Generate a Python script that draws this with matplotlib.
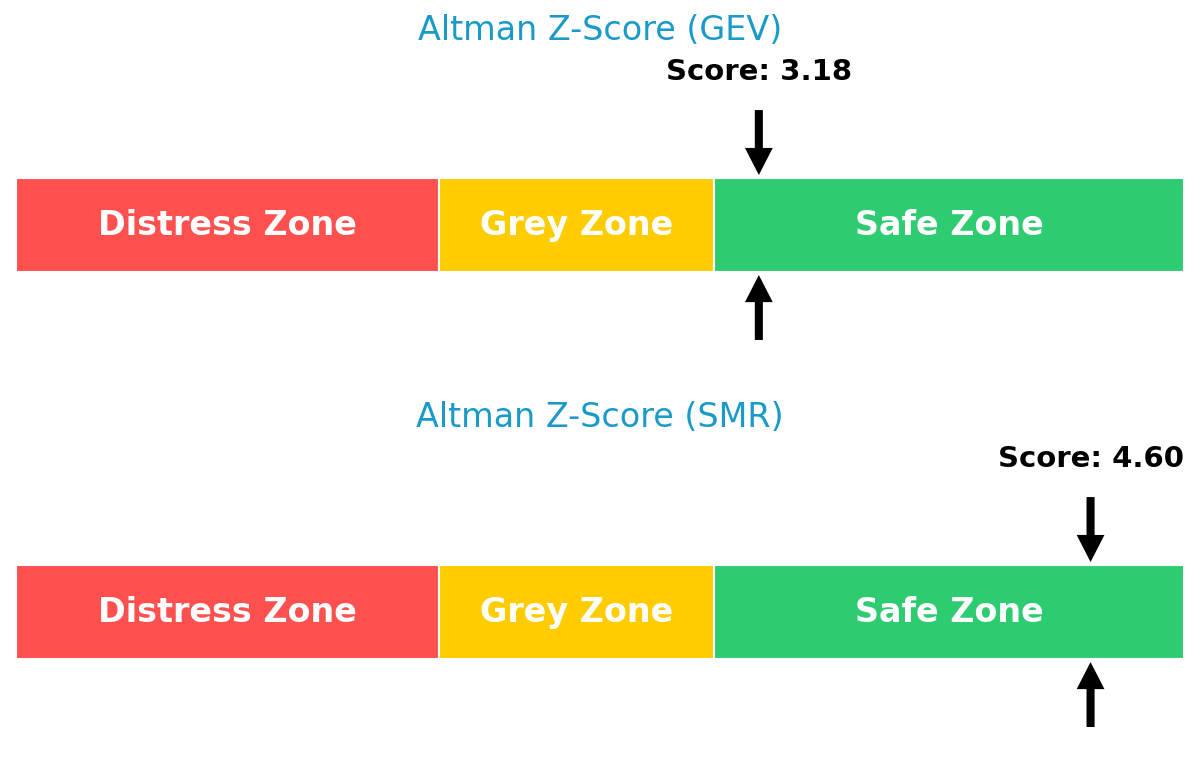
import matplotlib
matplotlib.use("Agg")
import matplotlib.pyplot as plt

companies = ["GEV", "SMR"]
scores = [3.18, 4.60]
zone_names = ["Distress Zone", "Grey Zone", "Safe Zone"]
zone_bounds = [0.0, 1.81, 2.99, 5.0]
zone_colors = ["#ff5050", "#ffcc00", "#2ecc71"]

W, H = 1200, 774
fig = plt.figure(figsize=(W / 100, H / 100), dpi=100)

panel_h = 387
for i, (comp, score) in enumerate(zip(companies, scores)):
    bottom_px = H - (i + 1) * panel_h
    ax = fig.add_axes([16 / W, bottom_px / H, 1168 / W, panel_h / H])
    ax.set_xlim(zone_bounds[0], zone_bounds[-1])
    ax.set_ylim(-1.723, 2.394)
    ax.axis("off")
    for name, lo, hi, col in zip(zone_names, zone_bounds[:-1], zone_bounds[1:], zone_colors):
        ax.barh(0, hi - lo, left=lo, height=1.0, color=col, edgecolor="white", linewidth=1.5)
        ax.text((lo + hi) / 2, 0, name, ha="center", va="center", color="white",
                fontsize=24, fontweight="bold")
    ax.text(2.5, 2.074, f"Altman Z-Score ({comp})", ha="center", va="center",
            color="#1a9ac9", fontsize=24)
    ax.text(score, 1.628, f"Score: {score:.2f}", ha="center", va="center",
            color="black", fontsize=21, fontweight="bold")
    props = dict(facecolor="black", edgecolor="black", linewidth=0, width=5.8,
                 headwidth=20, headlength=19.5, shrink=0)
    ax.annotate("", xy=(score, 0.532), xytext=(score, 1.223), arrowprops=props)
    ax.annotate("", xy=(score, -0.532), xytext=(score, -1.223), arrowprops=props)

fig.savefig("out.png", dpi=100, facecolor="white")
